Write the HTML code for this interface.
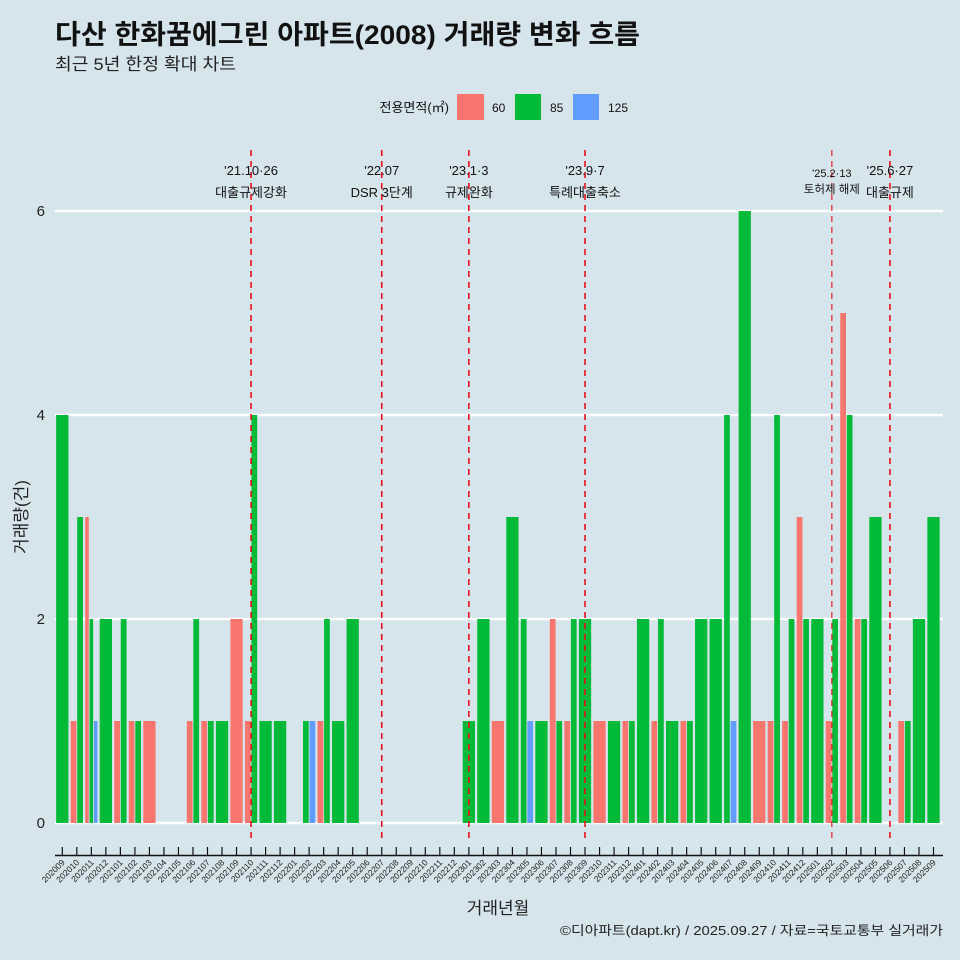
<!DOCTYPE html>
<html><head><meta charset="utf-8"><style>
body{margin:0;background:#d6e4ec;}
svg{display:block;font-family:"Liberation Sans","Noto Sans CJK KR",sans-serif;}
</style></head><body>
<svg id="chart" width="960" height="960" viewBox="0 0 960 960">
<rect width="960" height="960" fill="#d6e4ec"/>
<text x="55" y="44" font-size="27" font-weight="bold" fill="#111" textLength="585" lengthAdjust="spacingAndGlyphs">다산 한화꿈에그린 아파트(2008) 거래량 변화 흐름</text>
<text x="55" y="70" font-size="17" fill="#222" textLength="181" lengthAdjust="spacingAndGlyphs">최근 5년 한정 확대 차트</text>
<g>
<text x="449" y="112" font-size="13" text-anchor="end" fill="#111">전용면적(㎡)</text>
<rect x="457" y="94" width="27" height="26" fill="#f8766d"/>
<text x="492" y="112" font-size="12" fill="#111">60</text>
<rect x="515" y="94" width="26" height="26" fill="#00ba38"/>
<text x="550" y="112" font-size="12" fill="#111">85</text>
<rect x="573" y="94" width="26" height="26" fill="#619cff"/>
<text x="608" y="112" font-size="12" fill="#111">125</text>
</g>
<g id="grid"></g><g id="bars"></g><g id="events"></g><g id="axes"></g>
<text x="27" y="517" font-size="17" fill="#222" text-anchor="middle" transform="rotate(-90 27 517)">거래량(건)</text>
<text x="498" y="914" font-size="17" fill="#222" text-anchor="middle">거래년월</text>
<text x="943" y="935" font-size="13" fill="#222" text-anchor="end" textLength="383" lengthAdjust="spacingAndGlyphs">©디아파트(dapt.kr) / 2025.09.27 / 자료=국토교통부 실거래가</text>
</svg>
<script>
const months=[];
for(let y=2020,m=9;!(y===2025&&m===10);){months.push(''+y+(m<10?'0':'')+m);m++;if(m>12){m=1;y++;}}
//            09 10 11 12|01 02 03 04 05 06 07 08 09 10 11 12|01 02 03 04 05 06 07 08 09 10 11 12|01 02 03 04 05 06 07 08 09 10 11 12|01 02 03 04 05 06 07 08 09 10 11 12|01 02 03 04 05 06 07 08 09
const v60=  [0, 1, 3, 0, 1, 1, 1, 0, 0, 1, 1, 0, 2, 1, 0, 0, 0, 0, 1, 0, 0, 0, 0, 0, 0, 0, 0, 0, 0, 0, 1, 0, 0, 0, 2, 1, 0, 1, 0, 1, 0, 1, 0, 1, 0, 0, 0, 0, 1, 1, 1, 3, 0, 1, 5, 2, 0, 0, 1, 0, 0];
const v85=  [4, 3, 2, 2, 2, 1, 0, 0, 0, 2, 1, 1, 0, 4, 1, 1, 0, 1, 2, 1, 2, 0, 0, 0, 0, 0, 0, 0, 1, 2, 0, 3, 2, 1, 1, 2, 2, 0, 1, 1, 2, 2, 1, 1, 2, 2, 4, 6, 0, 4, 2, 2, 2, 2, 4, 2, 3, 0, 1, 2, 3];
const v125= [0, 0, 1, 0, 0, 0, 0, 0, 0, 0, 0, 0, 0, 0, 0, 0, 0, 1, 0, 0, 0, 0, 0, 0, 0, 0, 0, 0, 0, 0, 0, 0, 1, 0, 0, 0, 0, 0, 0, 0, 0, 0, 0, 0, 0, 0, 1, 0, 0, 0, 0, 0, 0, 0, 0, 0, 0, 0, 0, 0, 0];
const yTicks=[0,2,4,6];
const events=[{m:'202110',d:"'21.10·26",t:'대출규제강화',big:1},{m:'202207',d:"'22.07",t:'DSR 3단계',big:1},{m:'202301',d:"'23.1·3",t:'규제완화',big:1},{m:'202309',d:"'23.9·7",t:'특례대출축소',big:1},{m:'202502',d:"'25.2·13",t:'토허제 해제',big:0},{m:'202506',d:"'25.6·27",t:'대출규제',big:1}];
const NS='http://www.w3.org/2000/svg';
const X0=62.3,STEP=14.52,Y0=823,YU=102;
const xs=i=>X0+STEP*i, ys=v=>Y0-v*YU;
function mk(tag,at,parent){const e=document.createElementNS(NS,tag);for(const k in at)e.setAttribute(k,at[k]);parent.appendChild(e);return e;}
const grid=document.getElementById('grid'),bars=document.getElementById('bars'),ev=document.getElementById('events'),ax=document.getElementById('axes');
yTicks.forEach(t=>{
 const l=mk('line',{x1:55,x2:943,y1:ys(t),y2:ys(t),stroke:'#fff','stroke-width':2.5},grid);
 
 
 const tx=mk('text',{x:45,y:ys(t)+5,'font-size':15,'text-anchor':'end',fill:'#222'},ax);tx.textContent=t;
 
 
});
const series=[{v:v60,c:'#f8766d',n:'60'},{v:v85,c:'#00ba38',n:'85'},{v:v125,c:'#619cff',n:'125'}];
const BW=STEP*0.9;
months.forEach((m,i)=>{
 const present=series.filter(s=>s.v[i]>0);
 const w=BW/Math.max(present.length,1);
 present.forEach((s,k)=>{
  const x=xs(i)-BW/2+k*w;
  const r=mk('rect',{x:x+0.4,y:ys(s.v[i]),width:w-0.8,height:s.v[i]*YU,fill:s.c},bars);
  
  
 });
});
events.forEach(e=>{
 const x=xs(months.indexOf(e.m));
 const l=mk('line',{x1:x,x2:x,y1:150,y2:843,stroke:'#e8101a','stroke-width':e.big?1.6:1.1,'stroke-dasharray':'6 5'},ev);
 
 
 const fs=e.big?13:11.5;
 const t1=mk('text',{x:x,y:e.big?175:177,'font-size':e.big?13:11,'text-anchor':'middle',fill:'#111'},ev);t1.textContent=e.d;
 
 
 const t2=mk('text',{x:x,y:e.big?197:193,'font-size':fs,'text-anchor':'middle',fill:'#111'},ev);t2.textContent=e.t;
 
 
});
const al=mk('line',{x1:55,x2:943,y1:855.5,y2:855.5,stroke:'#111','stroke-width':1.5},ax);


months.forEach((m,i)=>{
 const x=xs(i);
 const tk=mk('line',{x1:x,x2:x,y1:847,y2:855,stroke:'#111','stroke-width':1.2},ax);
 
 
 const t=mk('text',{x:x+3,y:863,'font-size':8.5,'text-anchor':'end',fill:'#222',transform:`rotate(-45 ${x+3} 863)`},ax);t.textContent=m;
 
 
});
</script>
</body></html>
